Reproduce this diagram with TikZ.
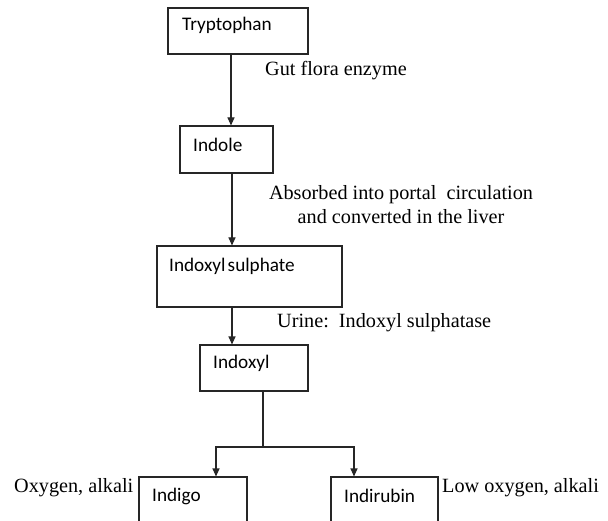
\documentclass[tikz,border=0pt]{standalone}
\usepackage{fontspec}
\setmainfont{Liberation Serif}
\newfontfamily\boxfont{Carlito}
\usetikzlibrary{arrows.meta,calc}
\begin{document}
\begin{tikzpicture}[x=1bp,y=-1bp,
  box/.style={draw=black!85,line width=1.1bp,inner sep=0pt},
  boxtext/.style={anchor=west,inner sep=0pt,font=\boxfont\fontsize{19.3}{22}\selectfont},
  note/.style={inner sep=0pt,font=\fontsize{20.3}{24}\selectfont},
  conn/.style={draw=black!85,line width=1.1bp},
  arr/.style={conn,-{Triangle[width=7bp,length=8bp]}}]
\clip (0,0) rectangle (608,521);
\fill[white] (0,0) rectangle (608,521);
% boxes
\node[box,minimum width=140bp,minimum height=46bp] (tryp) at (238,31) {};
\node[box,minimum width=93bp,minimum height=47bp] (indole) at (226.5,149.5) {};
\node[box,minimum width=185bp,minimum height=61bp] (isulf) at (249.5,276.5) {};
\node[box,minimum width=108bp,minimum height=46bp] (indoxyl) at (254,368) {};
\node[box,minimum width=108bp,minimum height=83bp] (indigo) at (193,518.5) {};
\node[box,minimum width=107bp,minimum height=83bp] (indirubin) at (384.5,518.5) {};
% box texts
\node[boxtext] (ttryp) at (182,25) {Tryptophan};
\node[boxtext] (tindole) at (193,145) {Indole};
\node[boxtext] (tisulf) at (169,266) {Indoxyl\hspace{0.12em}sulphate};
\node[boxtext] (tindoxyl) at (213,363) {Indoxyl};
\node[boxtext] (tindigo) at (152,496) {Indigo};
\node[boxtext] (tindirubin) at (344,496) {Indirubin};
% connectors
\coordinate (c1) at (231,0);
\coordinate (c2) at (232,0);
\coordinate (j) at (263,447);
\coordinate (cl) at (216,0);
\coordinate (cr) at (354,0);
\draw[arr] (tryp.south -| c1) -- (indole.north -| c1);
\draw[arr] (indole.south -| c2) -- (isulf.north -| c2);
\draw[arr] (isulf.south -| c2) -- (indoxyl.north -| c2);
\draw[conn] (indoxyl.south -| j) -- (j);
\draw[arr] (j) -| (indigo.north -| cl);
\draw[arr] (j) -| (indirubin.north -| cr);
% notes
\node[note,anchor=west] (n1) at (265,71) {Gut flora enzyme};
\node[note,align=center] (n2) at (401,205) {Absorbed into portal\ \ circulation\\and converted in the liver};
\node[note,anchor=west] (n3) at (277,323) {Urine:\ \ Indoxyl sulphatase};
\node[note,anchor=west] (n4) at (14,488) {Oxygen, alkali};
\node[note,anchor=west] (n5) at (442,488) {Low oxygen, alkali};
\end{tikzpicture}
\end{document}
